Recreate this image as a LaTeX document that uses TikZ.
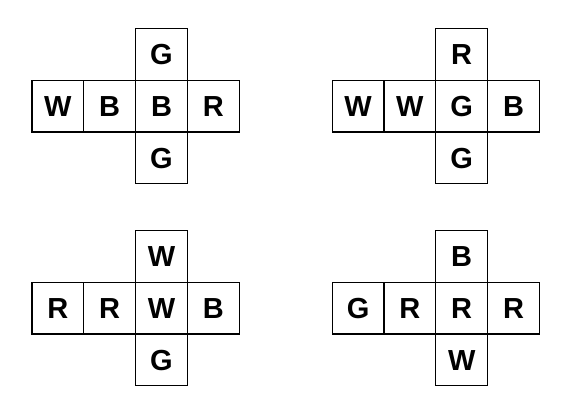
\documentclass[tikz,border=0pt]{standalone}
\usepackage{fontspec}
\setmainfont{Liberation Sans}
\begin{document}
\begin{tikzpicture}[x=1pt,y=-1pt,
  cell/.style={draw=black, line width=1.2pt, minimum width=51.8pt, minimum height=51.8pt,
    inner sep=0pt, font=\fontsize{29}{29}\selectfont\bfseries, text height=20.8pt, text depth=0pt}]
\useasboundingbox (0,0) rectangle (576,405);
\foreach \n/\cx/\cy/\t/\ll/\l/\c/\r/\b in {
  a/161.5/106/G/W/B/B/R/G,
  b/461.7/106/R/W/W/G/B/G,
  c/161.5/308/W/R/R/W/B/G,
  d/461.7/308/B/G/R/R/R/W}{
  \node[cell] (\n-c) at (\cx,\cy) {\c};
  \node[cell] (\n-t) at (\cx,\cy-51.8) {\t};
  \node[cell] (\n-b) at (\cx,\cy+51.8) {\b};
  \node[cell] (\n-l) at (\cx-51.8,\cy) {\l};
  \node[cell] (\n-ll) at (\cx-103.6,\cy) {\ll};
  \node[cell] (\n-r) at (\cx+51.8,\cy) {\r};
}
\end{tikzpicture}
\end{document}
